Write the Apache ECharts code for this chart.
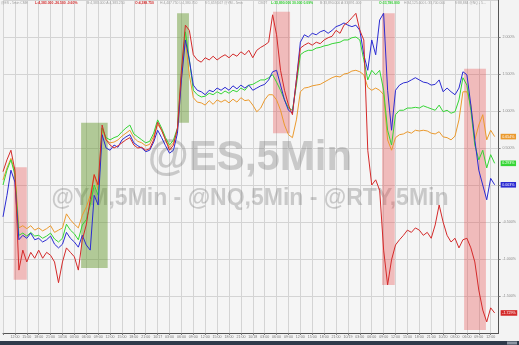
<!DOCTYPE html>
<html><head><meta charset="utf-8">
<script src="https://cdn.jsdelivr.net/npm/echarts@6/dist/echarts.min.js"></script>
<style>html,body{margin:0;padding:0;background:#f3f3f3}#c{width:519px;height:345px}</style>
</head><body><div id="c"></div>
<script>
// percent change series (5-min bars, sampled)
const redSeries = [0.18,0.34,0.47,0.20,-1.15,-0.88,-1.04,-0.91,-0.99,-0.88,-0.99,-0.91,-0.95,-1.04,-1.32,-1.04,-0.85,-0.91,-0.97,-1.15,
-0.74,-0.54,-0.20,0.14,0.00,0.81,0.61,0.54,0.50,0.53,
0.57,0.61,0.64,0.54,0.50,0.51,0.47,0.49,0.61,0.85,
0.74,0.61,0.47,0.54,0.77,1.55,2.16,2.09,1.76,1.69,
1.66,1.72,1.69,1.74,1.69,1.73,1.76,1.72,1.77,1.74,
1.80,1.76,1.82,1.72,1.82,1.86,1.89,1.93,2.30,2.03,
1.55,1.28,1.08,0.95,1.42,1.85,1.89,1.92,1.89,1.93,
1.91,1.96,1.99,2.01,2.09,2.05,2.16,2.20,2.26,2.32,
2.09,1.96,0.47,0.00,0.07,-0.07,-0.88,-1.35,-1.01,-0.81,
-0.74,-0.68,-0.61,-0.64,-0.58,-0.61,-0.68,-0.64,-0.72,-0.54,
-0.27,-0.50,-0.68,-0.77,-0.72,-0.85,-0.74,-0.72,-0.85,-1.04,
-1.42,-1.69,-1.85,-1.66,-1.729];
const blueSeries = [-0.43,-0.14,0.20,0.04,-0.74,-0.68,-0.72,-0.65,-0.74,-0.72,-0.77,-0.74,-0.69,-0.80,-0.85,-0.80,-0.64,-0.72,-0.77,-0.84,
-0.68,-0.81,-0.88,-0.14,-0.27,0.68,0.50,0.47,0.54,0.51,
0.61,0.65,0.68,0.57,0.53,0.50,0.45,0.47,0.58,0.74,
0.64,0.53,0.43,0.47,0.70,1.42,1.96,1.69,1.35,1.28,
1.26,1.22,1.28,1.26,1.31,1.28,1.32,1.28,1.34,1.30,
1.35,1.31,1.35,1.28,1.31,1.34,1.36,1.42,1.53,1.55,
1.35,1.15,1.01,0.97,1.42,1.93,2.03,2.00,2.05,2.03,
2.07,2.09,2.05,2.09,2.14,2.16,2.19,2.16,2.14,2.16,
2.09,1.76,1.55,1.96,1.76,2.23,2.32,1.28,0.74,1.28,
1.35,1.38,1.39,1.42,1.45,1.42,1.39,1.38,1.35,1.36,
1.42,1.26,1.31,1.26,1.22,1.31,1.53,1.49,1.08,0.61,
0.20,0.00,-0.20,0.09,0.003];
const greenSeries = [0.00,0.20,0.34,0.14,-0.68,-0.65,-0.69,-0.64,-0.69,-0.68,-0.72,-0.69,-0.65,-0.73,-0.77,-0.72,-0.53,-0.61,-0.66,-0.74,
-0.54,-0.47,-0.27,0.00,-0.14,0.77,0.64,0.61,0.64,0.66,
0.72,0.77,0.81,0.69,0.65,0.61,0.57,0.59,0.70,0.88,
0.77,0.64,0.54,0.61,0.77,1.49,2.07,1.69,1.28,1.22,
1.19,1.20,1.24,1.22,1.26,1.23,1.27,1.24,1.28,1.26,
1.31,1.28,1.35,1.36,1.39,1.42,1.42,1.45,1.49,1.39,
1.28,1.15,1.04,1.01,1.35,1.76,1.80,1.82,1.82,1.85,
1.86,1.88,1.89,1.91,1.92,1.93,1.96,1.96,1.99,2.00,
1.96,1.69,1.42,1.55,1.49,1.55,1.28,0.74,0.54,0.95,
1.01,1.01,1.04,1.04,1.05,1.04,1.07,1.05,1.03,1.01,
1.08,0.99,1.01,0.97,0.99,1.15,1.45,1.35,1.01,0.54,
0.34,0.47,0.23,0.41,0.293];
const orangeSeries = [0.07,0.23,0.36,0.18,-0.58,-0.55,-0.59,-0.55,-0.61,-0.58,-0.62,-0.59,-0.55,-0.64,-0.61,-0.58,-0.39,-0.47,-0.53,-0.58,
-0.41,-0.30,-0.14,0.14,-0.07,0.77,0.61,0.57,0.58,0.61,
0.66,0.70,0.74,0.64,0.59,0.57,0.53,0.55,0.66,0.82,
0.74,0.61,0.51,0.57,0.74,1.42,1.96,1.49,1.18,1.12,
1.11,1.08,1.14,1.09,1.15,1.12,1.15,1.11,1.16,1.12,
1.18,1.14,1.15,1.08,0.99,1.04,1.15,1.22,1.22,1.15,
1.01,0.81,0.68,0.64,0.88,1.26,1.31,1.32,1.34,1.35,
1.36,1.39,1.42,1.45,1.47,1.46,1.50,1.51,1.54,1.55,
1.53,1.49,1.32,1.28,1.31,1.28,1.22,0.61,0.47,0.64,
0.68,0.69,0.72,0.70,0.74,0.73,0.74,0.73,0.70,0.69,
0.72,0.65,0.64,0.61,0.66,0.88,1.26,1.26,1.08,0.61,
0.81,0.95,0.61,0.74,0.654];

// x tick labels (one per gridline, every 3 bars)
const tickLabels = ["","12:00","15:00","18:00","21:00","10/16","03:00","06:00",
"09:00","12:00","15:00","18:00","21:00","10/17","03:00","06:00",
"09:00","12:00","15:00","18:00","21:00","10/18","03:00","06:00",
"09:00","12:00","15:00","18:00","21:00","10/19","03:00","06:00",
"09:00","12:00","15:00","18:00","21:00","10/20","03:00","06:00",
"09:00","12:00"];

// shaded event zones: [startBar, endBar, top %, bottom %, kind]
const zones = [
  [2.7, 6.0, 0.24, -1.28, 'down'],
  [19.7, 26.4, 0.84, -1.12, 'up'],
  [43.9, 46.9, 2.32, 0.84, 'up'],
  [68.1, 72.4, 2.34, 0.70, 'down'],
  [95.6, 98.8, 2.32, -1.35, 'down'],
  [116.3, 121.8, 1.57, -1.96, 'down']
];

// header text pieces: [x, text, kind]
const headerParts = [
  [1, '@ES - 5min CME', 'g'],
  [35, 'L:4,383.000 -26.500 -0.60%', 'r'],
  [87, 'B:4,383.000 A:4,383.250', 'g'],
  [135, 'O:4,388.750', 'r'],
  [160, 'H:4,407.750 L:4,380.750', 'g'],
  [205, 'V:1,659,567 @YM - 5min', 'g'],
  [258, 'CBOT', 'g'],
  [271, 'L:33,890.000 30.000 0.09%', 'gr'],
  [320, 'B:33,890.000 A:33,891.000', 'g'],
  [379, 'O:33,780.000', 'gr'],
  [404, 'H:34,125.000 L:33,700.000', 'g'],
  [455, 'V:88,884 @NQ - 5...', 'g']
];

const watermark = ['@ES,5Min', '@YM,5Min - @NQ,5Min - @RTY,5Min'];

const colors = {red:'#d42a2a', blue:'#2b2bd2', green:'#35d635', orange:'#eb9a2e'};
const hdrColors = {g:'#a0a0a0', r:'#d42a2a', gr:'#2fcf2f'};

const toPairs = arr => arr.map((v,i)=>[i,v]);

const zoneData = zones.map(z => [
  {xAxis:z[0], yAxis:z[2], itemStyle:{color: z[4]==='up' ? 'rgba(100,150,45,0.47)' : 'rgba(232,70,70,0.33)'}},
  {xAxis:z[1], yAxis:z[3]}
]);

function mk(name, data, color, extra){
  return Object.assign({
    name, type:'line', data: toPairs(data), showSymbol:false, symbol:'none',
    lineStyle:{width:1, color}, itemStyle:{color},
    endLabel:{show:true, formatter:p=>p.value[1].toFixed(3)+'%', color:'#fff',
      backgroundColor:color, fontSize:3.6, fontFamily:'Liberation Sans', padding:[0.8,1.6], distance:6},
    emphasis:{disabled:true}
  }, extra||{});
}

const graphics = [];
headerParts.forEach(h=>{
  graphics.push({type:'text', x:h[0], y:1.5, z:10, style:{text:h[1], fill:hdrColors[h[2]],
    font:(h[2]==='g'?'':'bold ')+'3.4px "Liberation Sans"'}});
});
graphics.push({type:'text', x:250, y:158, z:1, style:{text:watermark[0], fill:'rgba(110,110,110,0.32)',
  font:'bold 42px "Liberation Sans"', textAlign:'center', textVerticalAlign:'middle'}});
graphics.push({type:'text', x:250, y:199, z:1, style:{text:watermark[1], fill:'rgba(110,110,110,0.32)',
  font:'bold 23px "Liberation Sans"', textAlign:'center', textVerticalAlign:'middle'}});
graphics.push({type:'rect', shape:{x:0,y:341,width:519,height:4}, z:10, style:{fill:'#2f3a4a'}});
graphics.push({type:'rect', shape:{x:507,y:341.5,width:10,height:3}, z:11, style:{fill:'#8d96a3'}});

const chart = echarts.init(document.getElementById('c'), null, {renderer:'canvas'});
chart.setOption({
  animation:false,
  backgroundColor:'#f3f3f3',
  grid:{left:0, right:18, top:0, bottom:12, show:true, backgroundColor:'#f5f5f5', borderWidth:0},
  xAxis:{type:'value', min:0, max:125, interval:3,
    axisLine:{show:true, onZero:false, lineStyle:{color:'#555', width:1}},
    axisTick:{show:true, length:2, lineStyle:{color:'#777'}},
    axisLabel:{fontSize:3.6, color:'#777', margin:2, fontFamily:'Liberation Sans', showMaxLabel:false,
      formatter:v=> (v%3===0 && tickLabels[v/3]!==undefined) ? tickLabels[v/3] : ''},
    splitLine:{show:true, lineStyle:{color:'#d4d4d4', width:1}}
  },
  yAxis:{type:'value', position:'right', min:-2, max:2.5, interval:0.5,
    axisLine:{show:true, onZero:false, lineStyle:{color:'#555', width:1}},
    axisTick:{show:true, length:2, lineStyle:{color:'#888'}},
    axisLabel:{fontSize:3.6, color:'#8a8a8a', margin:4, fontFamily:'Liberation Sans',
      showMinLabel:false, showMaxLabel:false, formatter:v=>v.toFixed(3)+'%'},
    splitLine:{show:true, lineStyle:{color:'#d4d4d4', width:1}}
  },
  graphic:graphics,
  series:[
    mk('RTY', orangeSeries, colors.orange, {markArea:{silent:true, data:zoneData}}),
    mk('NQ', greenSeries, colors.green),
    mk('ES', blueSeries, colors.blue),
    mk('YM', redSeries, colors.red)
  ]
});
</script></body></html>
